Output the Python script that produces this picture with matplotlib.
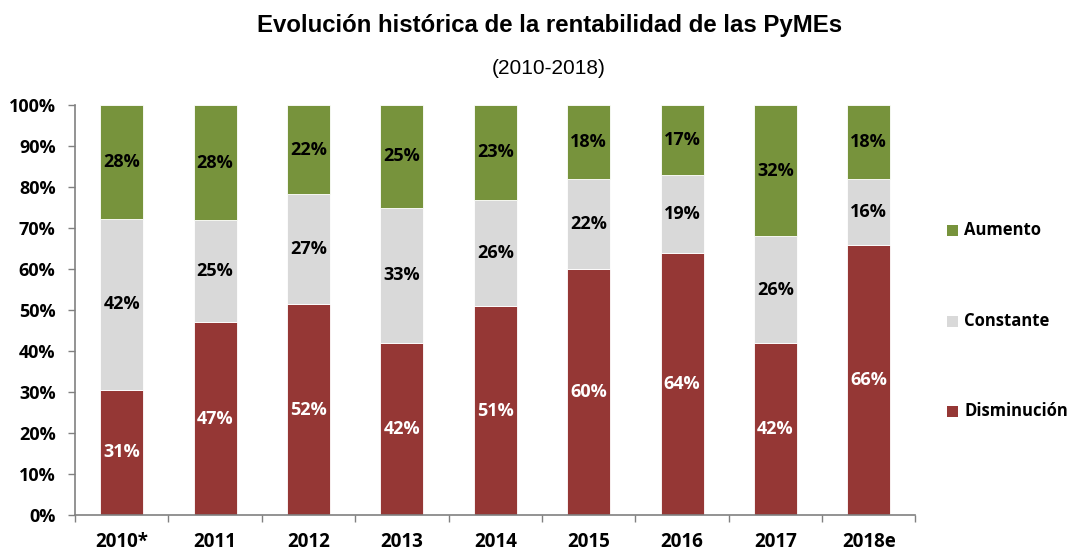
import matplotlib
matplotlib.use("Agg")
import matplotlib.pyplot as plt
import numpy as np

categories = ["2010*", "2011", "2012", "2013", "2014", "2015", "2016", "2017", "2018e"]
disminucion = [30.6, 47.0, 51.5, 42.0, 51.0, 60.0, 64.0, 42.0, 66.0]
constante = [41.7, 25.0, 26.8, 33.0, 26.0, 22.0, 19.0, 26.0, 16.0]
aumento = [27.7, 28.0, 21.7, 25.0, 23.0, 18.0, 17.0, 32.0, 18.0]
labels_dis = ["31%", "47%", "52%", "42%", "51%", "60%", "64%", "42%", "66%"]
labels_con = ["42%", "25%", "27%", "33%", "26%", "22%", "19%", "26%", "16%"]
labels_aum = ["28%", "28%", "22%", "25%", "23%", "18%", "17%", "32%", "18%"]
yticks = [0, 10, 20, 30, 40, 50, 60, 70, 80, 90, 100]

c_red = "#953735"
c_grey = "#D9D9D9"
c_green = "#77933C"

fig = plt.figure(figsize=(10.72, 5.5), dpi=100)
ax = fig.add_axes([0.070, 0.0636, 0.784, 0.745])

x = np.arange(len(categories))
w = 0.46
dis = np.array(disminucion)
con = np.array(constante)
aum = np.array(aumento)

b1 = ax.bar(x, dis, w, color=c_red, edgecolor="white", linewidth=0.6, label="Disminución")
b2 = ax.bar(x, con, w, bottom=dis, color=c_grey, edgecolor="white", linewidth=0.6, label="Constante")
b3 = ax.bar(x, aum, w, bottom=dis + con, color=c_green, edgecolor="white", linewidth=0.6, label="Aumento")

lblfont = dict(family="Open Sans", fontweight="bold", fontsize=13)
for i in range(len(categories)):
    ax.text(x[i], dis[i] / 2, labels_dis[i], ha="center", va="center", color="white", **lblfont)
    ax.text(x[i], dis[i] + con[i] / 2, labels_con[i], ha="center", va="center", color="black", **lblfont)
    ax.text(x[i], dis[i] + con[i] + aum[i] / 2, labels_aum[i], ha="center", va="center", color="black", **lblfont)

ax.set_xlim(-0.5, len(categories) - 0.5)
ax.set_ylim(0, 100)
ax.set_yticks(yticks)
ax.set_yticklabels([f"{v}%" for v in yticks], fontfamily="Open Sans", fontweight="bold", fontsize=13)
ax.set_xticks(x)
ax.set_xticklabels(categories, fontfamily="Open Sans", fontweight="bold", fontsize=13.5)
ax.tick_params(axis="x", length=0, pad=12)
ax.set_xticks(np.arange(len(categories) + 1) - 0.5, minor=True)
ax.tick_params(axis="x", which="minor", length=5, color="#808080", width=1)
ax.tick_params(axis="y", length=5, color="#808080", width=1, pad=9)

for s in ["top", "right"]:
    ax.spines[s].set_visible(False)
for s in ["left", "bottom"]:
    ax.spines[s].set_color("#808080")
    ax.spines[s].set_linewidth(1.2)

fig.text(550 / 1072, 0.953, "Evolución histórica de la rentabilidad de las PyMEs",
         ha="center", va="center", fontfamily="Liberation Sans", fontweight="bold", fontsize=17.3)
fig.text(549 / 1072, 0.876, "(2010-2018)", ha="center", va="center",
         fontfamily="Liberation Sans", fontsize=15)

handles = [b3, b2, b1]
names = ["Aumento", "Constante", "Disminución"]
ypos = [230, 321, 411]
for h, n, yp in zip(handles, names, ypos):
    fy = 1 - yp / 550
    fig.patches.append(plt.Rectangle((947 / 1072, fy - 5.5 / 550), 11 / 1072, 11 / 550,
                                     transform=fig.transFigure, facecolor=h.patches[0].get_facecolor(),
                                     edgecolor="none"))
    fig.text(964 / 1072, fy, n, ha="left", va="center", fontfamily="Open Sans",
             fontweight="bold", fontsize=12)

fig.savefig("out.png", dpi=100)
